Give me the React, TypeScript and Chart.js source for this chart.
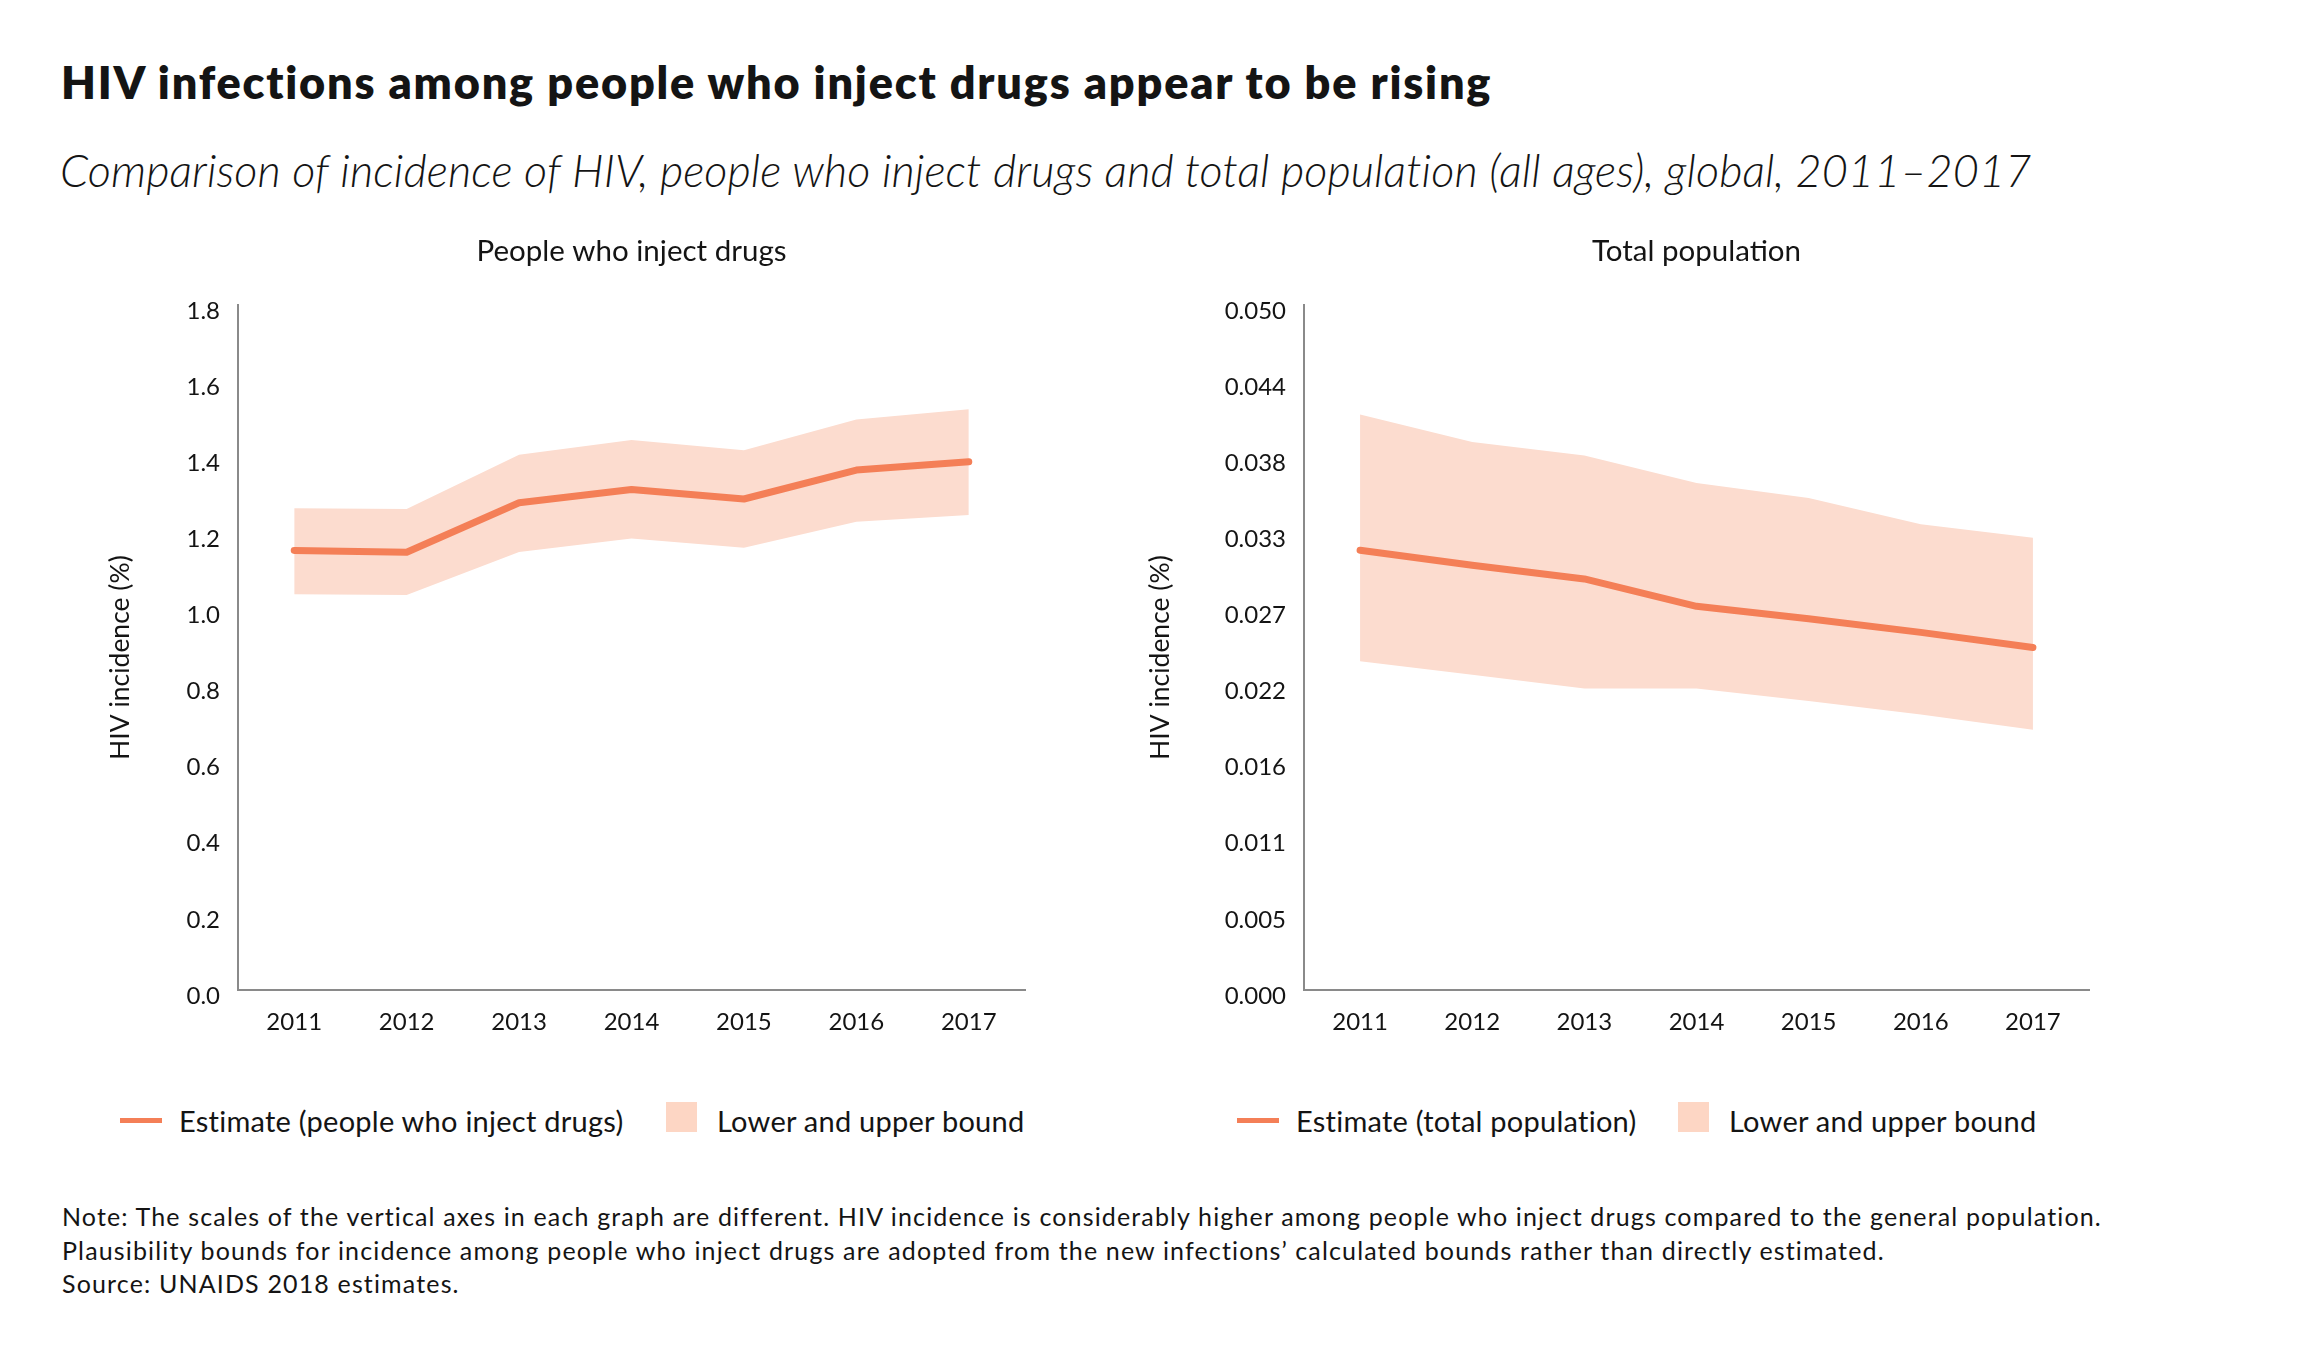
import { useEffect, useRef } from "react"
import { Chart, registerables } from "chart.js"

Chart.register(...registerables)

// data
const years = ["2011", "2012", "2013", "2014", "2015", "2016", "2017"]

const pwidEstimate = [1.155, 1.15, 1.28, 1.315, 1.29, 1.366, 1.388]
const pwidLower = [1.04, 1.038, 1.151, 1.186, 1.162, 1.23, 1.248]
const pwidUpper = [1.266, 1.264, 1.406, 1.445, 1.418, 1.499, 1.526]
const pwidTicks = ["0.0", "0.2", "0.4", "0.6", "0.8", "1.0", "1.2", "1.4", "1.6", "1.8"]

const totalEstimate = [0.0321, 0.031, 0.03, 0.028, 0.0271, 0.0261, 0.025]
const totalLower = [0.024, 0.023, 0.022, 0.022, 0.0211, 0.0201, 0.019]
const totalUpper = [0.042, 0.04, 0.039, 0.037, 0.0359, 0.034, 0.033]
const totalTicks = ["0.000", "0.005", "0.011", "0.016", "0.022", "0.027", "0.033", "0.038", "0.044", "0.050"]

const LINE = "#f47f57"
const BAND = "#fcdccf"
const BAND_KEY = "#fdd6c4"
const AXIS = "#8a8a8a"
const TEXT = "#141414"
const FONT = "Lato, 'Noto Sans', sans-serif"

type PanelProps = {
  title: string
  estimate: number[]
  lower: number[]
  upper: number[]
  tickLabels: string[]
  max: number
  left: number
  width: number
  axisWidth: number
  padRight: number
}

function Panel({ title, estimate, lower, upper, tickLabels, max, left, width, axisWidth, padRight }: PanelProps) {
  const chartRef = useRef<HTMLCanvasElement>(null)
  const chartInstance = useRef<Chart | null>(null)

  useEffect(() => {
    if (!chartRef.current) return
    const ctx = chartRef.current.getContext("2d")
    if (!ctx) return

    if (chartInstance.current) {
      chartInstance.current.destroy()
    }

    chartInstance.current = new Chart(ctx, {
      type: "line",
      data: {
        labels: years,
        datasets: [
          {
            label: "Estimate",
            data: estimate,
            borderColor: LINE,
            borderWidth: 7,
            borderCapStyle: "round",
            borderJoinStyle: "round",
            pointRadius: 0,
            fill: false,
            order: 0,
          },
          {
            label: "Lower",
            data: lower,
            borderWidth: 0,
            pointRadius: 0,
            fill: false,
            order: 1,
          },
          {
            label: "Lower and upper bound",
            data: upper,
            borderWidth: 0,
            pointRadius: 0,
            backgroundColor: BAND,
            fill: "-1",
            order: 1,
          },
        ],
      },
      options: {
        animation: false,
        responsive: true,
        maintainAspectRatio: false,
        layout: { padding: { left: 0, right: padRight, top: 0, bottom: 0 } },
        plugins: {
          legend: { display: false },
          tooltip: { enabled: false },
          title: {
            display: true,
            text: title,
            fullSize: false,
            color: TEXT,
            font: { family: FONT, size: 29.5, weight: "normal" },
            padding: { top: 34, bottom: 35.5 },
          },
        },
        scales: {
          x: {
            offset: true,
            grid: { display: false, drawTicks: false },
            border: { display: true, color: AXIS, width: 2 },
            ticks: { color: TEXT, font: { family: FONT, size: 24 }, padding: 18, maxRotation: 0 },
            afterFit: (s) => {
              s.height = 60
            },
          },
          y: {
            min: 0,
            max,
            grid: { display: false, drawTicks: false },
            border: { display: true, color: AXIS, width: 2 },
            afterBuildTicks: (s) => {
              s.ticks = tickLabels.map((_, i) => ({ value: (max * i) / (tickLabels.length - 1) }))
            },
            ticks: {
              color: TEXT,
              font: { family: FONT, size: 24 },
              padding: 18,
              labelOffset: 6,
              callback: (_v, i) => tickLabels[i],
            },
            title: {
              display: true,
              // trailing spaces nudge the rotated label a little below the axis middle, as in the original
              text: "HIV incidence (%)   ",
              color: TEXT,
              font: { family: FONT, size: 26.5 },
              padding: { top: 105, bottom: 0 },
            },
            afterFit: (s) => {
              s.width = axisWidth
            },
          },
        },
      },
    })

    return () => {
      if (chartInstance.current) {
        chartInstance.current.destroy()
        chartInstance.current = null
      }
    }
  }, [])

  return (
    <div style={{ position: "absolute", left, top: 200, width, height: 850 }}>
      <canvas ref={chartRef}></canvas>
    </div>
  )
}

function Legend({ left, estimateLabel, boxLeft }: { left: number; estimateLabel: string; boxLeft: number }) {
  const text: React.CSSProperties = {
    position: "absolute",
    top: 1106,
    fontFamily: FONT,
    fontSize: 29,
    lineHeight: "29px",
    letterSpacing: "0.25px",
    color: TEXT,
    whiteSpace: "nowrap",
  }
  return (
    <>
      <div style={{ position: "absolute", left, top: 1118, width: 42, height: 5, background: LINE }} />
      <div style={{ ...text, left: left + 59 }}>{estimateLabel}</div>
      <div style={{ position: "absolute", left: boxLeft, top: 1102, width: 31, height: 30, background: BAND_KEY }} />
      <div style={{ ...text, left: boxLeft + 51 }}>Lower and upper bound</div>
    </>
  )
}

export default function App() {
  return (
    <div
      style={{
        position: "absolute",
        left: 0,
        top: 0,
        width: 2303,
        height: 1358,
        background: "#fff",
        fontFamily: FONT,
        color: TEXT,
      }}
    >
      <div
        style={{
          position: "absolute",
          left: 61,
          top: 60,
          fontSize: 45,
          lineHeight: "45px",
          fontWeight: 800,
          letterSpacing: "1.8px",
          whiteSpace: "nowrap",
        }}
      >
        HIV infections among people who inject drugs appear to be rising
      </div>
      <div
        style={{
          position: "absolute",
          left: 60,
          top: 148,
          fontSize: 45,
          lineHeight: "45px",
          fontWeight: 300,
          fontStyle: "italic",
          letterSpacing: "0.1px",
          whiteSpace: "nowrap",
        }}
      >
        Comparison of incidence of HIV, people who inject drugs and total population (all ages), global, 2011–2017
      </div>

      <Panel
        title="People who inject drugs"
        estimate={pwidEstimate}
        lower={pwidLower}
        upper={pwidUpper}
        tickLabels={pwidTicks}
        max={1.8}
        left={0}
        width={1040}
        axisWidth={238}
        padRight={15}
      />
      <Panel
        title="Total population"
        estimate={totalEstimate}
        lower={totalLower}
        upper={totalUpper}
        tickLabels={totalTicks}
        max={0.05}
        left={1040}
        width={1263}
        axisWidth={264}
        padRight={214}
      />

      <Legend left={120} estimateLabel="Estimate (people who inject drugs)" boxLeft={666} />
      <Legend left={1237} estimateLabel="Estimate (total population)" boxLeft={1678} />

      <div
        style={{
          position: "absolute",
          left: 62,
          top: 1200,
          fontSize: 25,
          lineHeight: "33.5px",
          letterSpacing: "1.15px",
          whiteSpace: "nowrap",
        }}
      >
        Note: The scales of the vertical axes in each graph are different. HIV incidence is considerably higher among
        people who inject drugs compared to the general population.
        <br />
        Plausibility bounds for incidence among people who inject drugs are adopted from the new infections’ calculated
        bounds rather than directly estimated.
        <br />
        Source: UNAIDS 2018 estimates.
      </div>
    </div>
  )
}
